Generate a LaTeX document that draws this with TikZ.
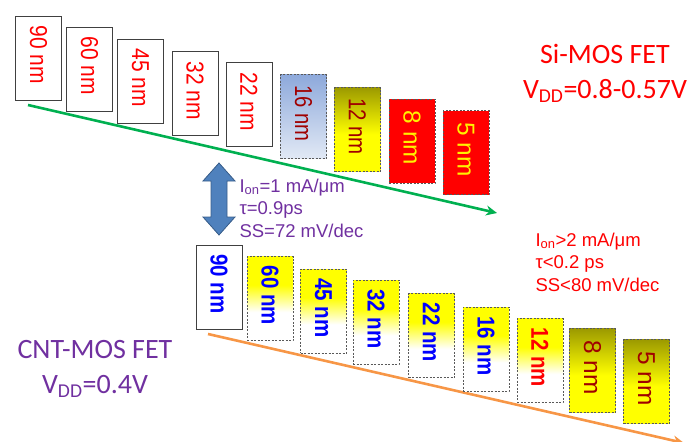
\documentclass[tikz,border=0pt]{standalone}
\usepackage{fontspec}
\setmainfont{Liberation Sans}
\newfontfamily\calfont{Carlito}
\usetikzlibrary{arrows.meta}
\definecolor{olivec}{HTML}{9C9A00}
\definecolor{bluehi}{HTML}{8EA9DB}
\definecolor{bluelo}{HTML}{E2E9F5}
\definecolor{purp}{HTML}{7030A0}
\definecolor{dred}{HTML}{A00000}
\definecolor{sgreen}{HTML}{00B050}
\definecolor{sorange}{HTML}{F79646}
\definecolor{arrfill}{HTML}{4F81BD}
\definecolor{arrline}{HTML}{385D8A}
\pgfdeclareverticalshading{yellowwhite}{100bp}{color(0bp)=(white); color(25bp)=(white); color(42bp)=(white); color(58bp)=(yellow); color(75bp)=(yellow); color(100bp)=(yellow)}
\pgfdeclareverticalshading{oliveyellow}{100bp}{color(0bp)=(yellow); color(25bp)=(yellow); color(47bp)=(yellow); color(75bp)=(olivec); color(100bp)=(olivec)}
\pgfdeclareverticalshading{bluefade}{100bp}{color(0bp)=(bluelo); color(25bp)=(bluelo); color(75bp)=(bluehi); color(100bp)=(bluehi)}
% rotated label: #1 = squeeze along the text, #2 = text
\newcommand{\rtxt}[2]{\rotatebox{-90}{\scalebox{#1}[1]{#2}\kern6pt}}
\begin{document}
\begin{tikzpicture}[x=1pt,y=-1pt,
  sz/.style={minimum width=46pt, minimum height=84pt, inner sep=0pt, outer sep=0pt, font=\fontsize{24.4}{25}\selectfont},
  solidbox/.style={sz, draw=black!75, line width=0.8pt, fill=white},
  dashbox/.style={sz, draw=black!65, dash pattern=on 2pt off 1.5pt, line width=0.6pt},
  topred/.style={solidbox, text=red},
  ybox/.style={dashbox, shading=yellowwhite, font=\fontsize{24.4}{25}\selectfont\bfseries},
  oybox/.style={dashbox, shading=oliveyellow, text=dred},
  redbox/.style={dashbox, fill=red, text=yellow},
  conn/.style={line width=2.6pt, -{Stealth[length=11pt,width=10pt]}},
  small/.style={align=left, anchor=base west, font=\fontsize{18.5}{22.3}\selectfont},
  big/.style={align=center, font=\calfont\fontsize{28}{35}\selectfont}
]
\useasboundingbox (0,0) rectangle (694,442);
% connectors
\coordinate (gs) at (28,105);
\coordinate (ge) at (497,213);
\draw[conn, sgreen] (gs) -- (ge);
\coordinate (os) at (208,334);
\coordinate (oe) at (684,443);
\draw[conn, sorange] (os) -- (oe);
% top row (Si)
\node[topred] (t90) at (38.5,58) {\rtxt{0.86}{90 nm}};
\node[topred] (t60) at (89.5,69) {\rtxt{0.86}{60 nm}};
\node[topred] (t45) at (140.5,81) {\rtxt{0.86}{45 nm}};
\node[topred] (t32) at (195,93.5) {\rtxt{0.86}{32 nm}};
\node[topred] (t22) at (249,104.5) {\rtxt{0.86}{22 nm}};
\node[dashbox, shading=bluefade, text=dred] (t16) at (303.5,116.5) {\rtxt{0.83}{16 nm}};
\node[oybox] (t12) at (357.5,129.5) {\rtxt{0.84}{12 nm}};
\node[redbox] (t8) at (412,141) {\rtxt{1}{8 nm}};
\node[redbox] (t5) at (466,152.5) {\rtxt{1}{5 nm}};
% bottom row (CNT)
\node[solidbox, text=blue, font=\fontsize{24.4}{25}\selectfont\bfseries] (b90) at (219,287) {\rtxt{0.84}{90 nm}};
\node[ybox, text=blue] (b60) at (270,298.5) {\rtxt{0.84}{60 nm}};
\node[ybox, text=blue] (b45) at (323.5,311) {\rtxt{0.84}{45 nm}};
\node[ybox, text=blue] (b32) at (376,322) {\rtxt{0.84}{32 nm}};
\node[ybox, text=blue] (b22) at (431.5,335.5) {\rtxt{0.84}{22 nm}};
\node[ybox, text=blue] (b16) at (486,349) {\rtxt{0.84}{16 nm}};
\node[ybox, text=red] (b12) at (540,360.5) {\rtxt{0.84}{12 nm}};
\node[oybox] (b8) at (592.5,370.5) {\rtxt{1}{8 nm}};
\node[oybox] (b5) at (646.5,381.5) {\rtxt{1}{5 nm}};
% double arrow
\draw[fill=arrfill, draw=arrline, line width=0.8pt, line join=miter]
  (219,163) -- (235,181) -- (227,181) -- (227,217) -- (235,217) -- (219,235)
  -- (203,217) -- (211,217) -- (211,181) -- (203,181) -- cycle;
% texts
\node[small, text=purp] (cntpar) at (236,237) {I\textsubscript{on}=1 mA/μm\\τ=0.9ps\\SS=72 mV/dec};
\node[small, text=red] (sipar) at (532,291) {I\textsubscript{on}>2 mA/μm\\τ<0.2 ps\\SS<80 mV/dec};
\node[big, text=red, anchor=base] (si1) at (605,63) {Si-MOS FET};
\node[big, text=red, anchor=base] (si2) at (605,98) {V\textsubscript{DD}=0.8-0.57V};
\node[big, text=purp, anchor=base] (cnt1) at (95,358) {CNT-MOS FET};
\node[big, text=purp, anchor=base] (cnt2) at (95,393) {V\textsubscript{DD}=0.4V};
\end{tikzpicture}
\end{document}
